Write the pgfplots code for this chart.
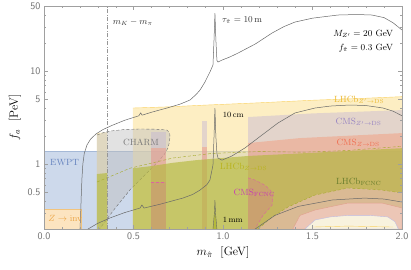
\documentclass[border=0pt]{standalone}
\usepackage{pgfplots}
\pgfplotsset{compat=1.18}
\definecolor{ewpt}{RGB}{205,217,235}
\definecolor{ewptline}{RGB}{165,185,215}
\definecolor{ewpttext}{RGB}{100,130,190}
\definecolor{zinv}{RGB}{252,228,192}
\definecolor{zinvline}{RGB}{242,196,125}
\definecolor{zinvtext}{RGB}{235,165,70}
\definecolor{yel}{RGB}{251,227,155}
\definecolor{yelline}{RGB}{250,210,100}
\definecolor{yeltext}{RGB}{235,185,50}
\definecolor{charm}{RGB}{190,190,190}
\definecolor{charmline}{RGB}{110,110,110}
\definecolor{charmtext}{RGB}{120,120,120}
\definecolor{lav}{RGB}{190,175,215}
\definecolor{lavtext}{RGB}{150,130,195}
\definecolor{salm}{RGB}{245,150,120}
\definecolor{salmtext}{RGB}{240,110,80}
\definecolor{olive}{RGB}{180,185,60}
\definecolor{olivedash}{RGB}{165,170,40}
\definecolor{olivetext}{RGB}{185,180,30}
\definecolor{fcnc}{RGB}{220,100,160}
\definecolor{fcnctext}{RGB}{200,60,180}
\definecolor{lfcnctext}{RGB}{105,125,45}
\definecolor{curve}{RGB}{105,105,105}
\definecolor{frame}{RGB}{160,160,160}
\definecolor{ticktext}{RGB}{110,110,110}
\definecolor{mkline}{RGB}{150,150,150}
\definecolor{islandA}{RGB}{218,186,148}
\definecolor{islandBline}{RGB}{225,160,140}
\definecolor{islandB}{RGB}{236,198,182}
\definecolor{islandCline}{RGB}{190,185,225}
\definecolor{islandC}{RGB}{248,242,222}
\begin{document}
\begin{tikzpicture}
\useasboundingbox (-44pt,-40pt) rectangle (367pt,229pt);
\begin{axis}[
  scale only axis, width=358pt, height=223pt,
  xmin=0, xmax=2, ymode=log, ymin=0.2, ymax=50,
  xtick={0,0.5,1,1.5,2}, xticklabels={0.0,0.5,1.0,1.5,2.0},
  minor xtick={0.1,0.2,0.3,0.4,0.6,0.7,0.8,0.9,1.1,1.2,1.3,1.4,1.6,1.7,1.8,1.9},
  ytick={0.5,1,5,10,50}, yticklabels={0.5,1,5,10,50},
  minor ytick={0.2,0.3,0.4,0.6,0.7,0.8,0.9,2,3,4,6,7,8,9,20,30,40},
  tick align=inside, major tick length=4pt, minor tick length=2pt,
  axis line style={frame}, tick style={frame},
  ticklabel style={font=\sffamily, text=ticktext},
  xlabel={$m_{\hat\pi}$\ \ [GeV]}, ylabel={$f_a$\ \ [PeV]},
  label style={font=\large},
  axis on top,
]
% EWPT
\addplot[draw=none, fill=ewpt] coordinates {(0,0.2) (0,1.38) (2,1.38) (2,0.2)} -- cycle;
\addplot[ewptline, thin] coordinates {(0,1.38) (2,1.38)};
% Z -> inv
\addplot[draw=zinvline, fill=zinv, thin] coordinates {(0,0.2) (0,0.328) (0.21,0.328) (0.21,0.2)} -- cycle;
% LHCb Z' -> DS (yellow)
\addplot[draw=none, fill=yel, fill opacity=0.6] coordinates {(0.296,0.2) (0.296,2.15) (0.354,2.2) (0.354,0.2)} -- cycle;
\addplot[draw=none, fill=yel, fill opacity=0.6] coordinates {(0.497,0.2) (0.497,4.0) (0.7,4.12) (0.9,4.3) (1.2,4.55) (1.5,4.85) (1.8,5.1) (2,5.3) (2,0.2)} -- cycle;
\addplot[yelline, thin] coordinates {(0.497,4.0) (0.7,4.12) (0.9,4.3) (1.2,4.55) (1.5,4.85) (1.8,5.1) (2,5.3)};
% CHARM
\addplot[draw=none, fill=charm, fill opacity=0.45] coordinates {(0.296,0.2) (0.296,2.05) (0.33,2.17) (0.369,2.26) (0.45,2.35) (0.536,2.38) (0.62,2.37) (0.687,2.32) (0.702,2.15) (0.704,1.95) (0.70,1.7) (0.693,1.49) (0.67,1.25) (0.631,1.03) (0.56,0.75) (0.48,0.525) (0.40,0.34) (0.31,0.2)} -- cycle;
\addplot[charmline, thin, dash pattern=on 3pt off 2pt] coordinates {(0.296,2.05) (0.33,2.17) (0.369,2.26) (0.45,2.35) (0.536,2.38) (0.62,2.37) (0.687,2.32) (0.702,2.15) (0.704,1.95) (0.70,1.7) (0.693,1.49) (0.67,1.25) (0.631,1.03) (0.56,0.75) (0.48,0.525) (0.40,0.34) (0.31,0.2)};
% CMS Z' -> DS (lavender)
\addplot[draw=none, fill=lav, fill opacity=0.4] coordinates {(1.14,0.2) (1.14,3.2) (1.5,3.5) (2,3.8) (2,0.2)} -- cycle;
\addplot[draw=none, fill=lav, fill opacity=0.4] coordinates {(0.6,0.2) (0.6,2.2) (0.68,2.2) (0.68,0.2)} -- cycle;
\addplot[draw=none, fill=lav, fill opacity=0.4] coordinates {(0.885,0.2) (0.885,2.9) (0.908,2.9) (0.908,0.2)} -- cycle;
% CMS Z -> DS (salmon)
\addplot[draw=none, fill=salm, fill opacity=0.45] coordinates {(1.14,0.2) (1.14,1.68) (1.43,1.9) (2,2.15) (2,0.2)} -- cycle;
\addplot[draw=none, fill=salm, fill opacity=0.45] coordinates {(0.6,0.2) (0.6,1.49) (0.68,1.49) (0.68,0.2)} -- cycle;
\addplot[draw=none, fill=salm, fill opacity=0.45] coordinates {(0.885,0.2) (0.885,1.52) (0.908,1.52) (0.908,0.2)} -- cycle;
% LHCb Z -> DS (olive)
\addplot[draw=none, fill=olive, fill opacity=0.65] coordinates {(0.296,0.2) (0.296,0.78) (0.354,0.8) (0.354,0.2)} -- cycle;
\addplot[draw=none, fill=olive, fill opacity=0.65] coordinates {(0.497,0.2) (0.497,0.9) (0.6,0.95) (0.72,1.03) (0.85,1.1) (0.95,1.14) (1.14,1.22) (1.43,1.3) (2,1.48) (2,0.2)} -- cycle;
\addplot[olivedash, thin, dash pattern=on 3pt off 2pt] coordinates {(0.296,0.64) (0.48,0.9) (0.72,1.16) (0.94,1.3) (1.2,1.36) (1.45,1.34) (1.7,1.4) (2.0,1.55)};
% CMS FCNC (pink dashed)
\addplot[draw=none, fill=fcnc, fill opacity=0.25] coordinates {(1.14,0.2) (1.14,0.71) (1.18,0.67) (1.235,0.59) (1.265,0.52) (1.279,0.46) (1.274,0.36) (1.223,0.28) (1.179,0.2)} -- cycle;
\addplot[fcnc, thin, dash pattern=on 3pt off 2pt] coordinates {(1.14,0.71) (1.18,0.67) (1.235,0.59) (1.265,0.52) (1.279,0.46) (1.274,0.36) (1.223,0.28) (1.179,0.2)};
\addplot[draw=none, fill=fcnc, fill opacity=0.2] coordinates {(0.6,0.2) (0.6,0.64) (0.68,0.64) (0.68,0.2)} -- cycle;
\addplot[fcnc, thin, dash pattern=on 3pt off 2pt] coordinates {(0.6,0.64) (0.68,0.64)};
% LHCb FCNC island
\addplot[draw=none, fill=islandA] coordinates {(1.196,0.2) (1.274,0.269) (1.363,0.345) (1.514,0.464) (1.698,0.552) (1.888,0.525) (2.0,0.488) (2.0,0.2)} -- cycle;
\addplot[olivedash, thin, dash pattern=on 3pt off 2pt] coordinates {(1.196,0.2) (1.274,0.269) (1.363,0.345) (1.514,0.464) (1.698,0.552) (1.888,0.525) (2.0,0.488)};
\addplot[draw=islandBline, fill=islandB, thin] coordinates {(1.39,0.2) (1.43,0.28) (1.514,0.32) (1.698,0.38) (1.888,0.38) (2.0,0.337) (2.0,0.2)} -- cycle;
\addplot[draw=islandCline, fill=islandC, thin] coordinates {(1.458,0.2) (1.514,0.25) (1.6,0.27) (1.698,0.28) (1.82,0.28) (1.92,0.27) (1.96,0.24) (1.98,0.2)} -- cycle;
\addplot[yelline, thin] coordinates {(1.5,0.21) (1.7,0.215) (1.95,0.21)};
% m_K - m_pi line
\addplot[mkline, thin, dash pattern=on 4pt off 1.5pt on 1pt off 1.5pt] coordinates {(0.3536,0.2) (0.3536,50)};
% lifetime curves
\addplot[curve, line width=0.5pt] coordinates {(0.201,0.2) (0.205,0.3) (0.208,0.45) (0.212,0.7) (0.217,1.0) (0.225,1.3) (0.24,1.6) (0.26,1.85) (0.29,2.1) (0.33,2.35) (0.38,2.6) (0.45,2.95) (0.53,3.3) (0.54,3.55) (0.548,3.35) (0.6,3.6) (0.687,4.0) (0.76,4.4) (0.816,4.88) (0.85,5.6) (0.872,6.25) (0.899,7.6) (0.927,9.75) (0.944,11.6) (0.95,22) (0.955,42) (0.96,22) (0.966,13) (0.972,12.5) (0.994,13.1) (1.04,14.2) (1.084,15.6) (1.18,19.5) (1.274,25.6) (1.34,30) (1.402,33.6) (1.5,37) (1.642,40) (1.75,40.5) (1.832,40) (1.9,37.5) (1.95,33) (2.0,27.6)};
\addplot[curve, line width=0.5pt] coordinates {(0.246,0.2) (0.30,0.23) (0.369,0.263) (0.45,0.3) (0.536,0.336) (0.547,0.362) (0.559,0.336) (0.65,0.37) (0.777,0.431) (0.83,0.47) (0.872,0.525) (0.91,0.6) (0.927,0.673) (0.944,0.976) (0.95,2.0) (0.955,4.0) (0.96,2.0) (0.966,1.3) (0.972,1.16) (0.994,1.10) (1.05,1.22) (1.123,1.49) (1.218,2.05) (1.307,2.76) (1.402,3.54) (1.514,4.0) (1.6,4.2) (1.709,4.31) (1.8,4.25) (1.894,4.0) (1.95,3.7) (2.0,3.3)};
\addplot[draw=curve, fill=olive, line width=0.4pt] coordinates {(0.944,0.2) (0.952,0.3) (0.955,0.41) (0.958,0.3) (0.966,0.2)};
\addplot[curve, line width=0.5pt] coordinates {(1.18,0.2) (1.29,0.28) (1.42,0.35) (1.61,0.41) (1.79,0.43) (1.9,0.42) (2.0,0.39)};
% labels
\node[anchor=west, font=\small, text=black!80] at (axis cs:0.365,33) {$m_K - m_\pi$};
\node[anchor=west, font=\small, text=black!80] at (axis cs:0.975,35) {$\tau_{\hat\pi} = 10\,\mathrm{m}$};
\node[anchor=east, font=\small] at (axis cs:1.97,25) {$M_{Z'} = 20$ GeV};
\node[anchor=east, font=\small] at (axis cs:1.97,17.6) {$f_{\hat\pi} = 0.3$ GeV};
\node[anchor=west, font=\footnotesize] at (axis cs:0.98,3.4) {10\,cm};
\node[anchor=west, font=\footnotesize] at (axis cs:0.98,0.25) {1\,mm};
\node[font=\small, text=charmtext] at (axis cs:0.542,1.72) {CHARM};
\node[anchor=west, font=\small, text=ewpttext] at (axis cs:0.015,1.05) {EWPT};
\node[anchor=west, font=\small, text=zinvtext] at (axis cs:0.005,0.263) {$Z\to\mathrm{inv}$};
\node[anchor=east, font=\small, text=yeltext] at (axis cs:1.92,4.9) {$\mathrm{LHCb}_{Z'\to\mathrm{DS}}$};
\node[anchor=east, font=\small, text=lavtext] at (axis cs:1.905,2.83) {$\mathrm{CMS}_{Z'\to\mathrm{DS}}$};
\node[anchor=east, font=\small, text=salmtext] at (axis cs:1.895,1.68) {$\mathrm{CMS}_{Z\to\mathrm{DS}}$};
\node[anchor=west, font=\small, text=olivetext] at (axis cs:0.963,0.93) {$\mathrm{LHCb}_{Z\to\mathrm{DS}}$};
\node[anchor=west, font=\small, text=fcnctext] at (axis cs:1.04,0.49) {$\mathrm{CMS}_{\mathrm{FCNC}}$};
\node[anchor=east, font=\small, text=lfcnctext] at (axis cs:1.905,0.64) {$\mathrm{LHCb}_{\mathrm{FCNC}}$};
\end{axis}
\end{tikzpicture}
\end{document}
